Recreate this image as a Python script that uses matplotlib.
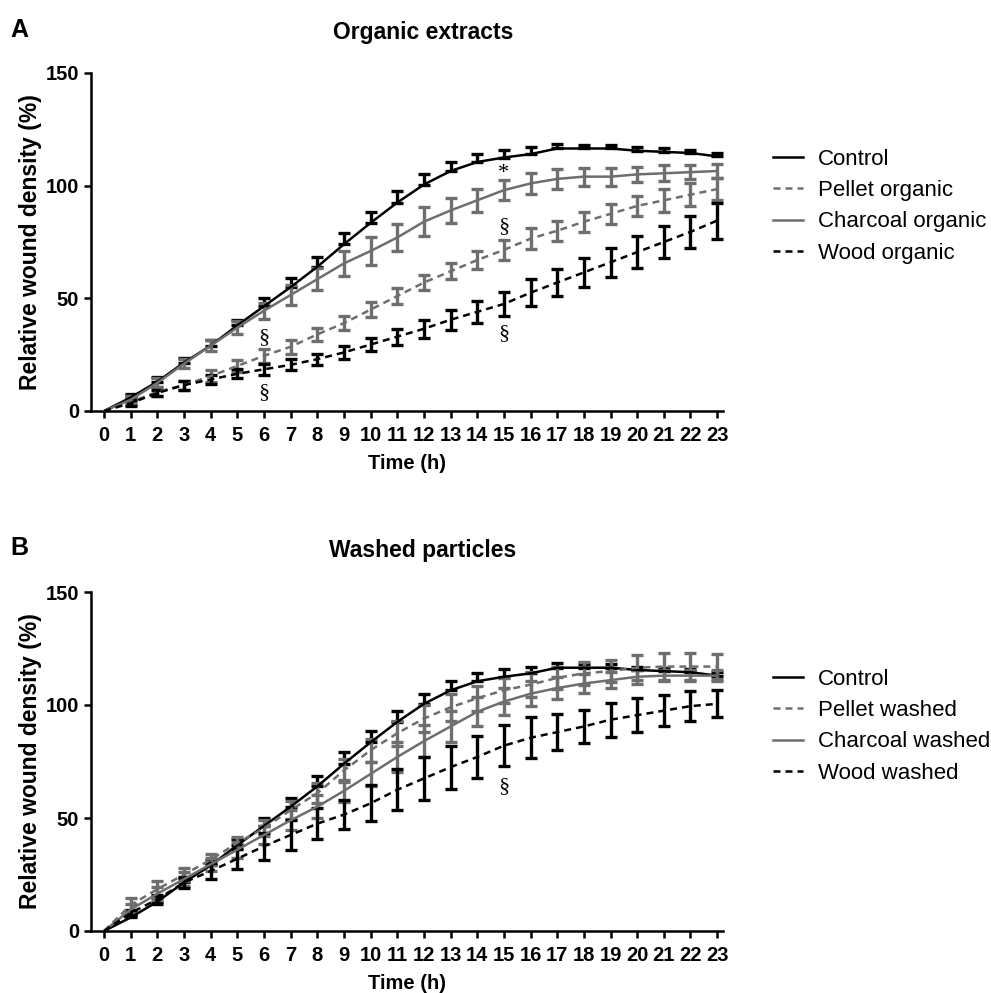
import numpy as np
import matplotlib
matplotlib.use("Agg")
import matplotlib.pyplot as plt
from matplotlib.lines import Line2D

# Time points (h)
hours = list(range(24))

# Control is shared by both panels (upper-only SEM bars)
control = [0, 6, 13, 21.5, 29, 38, 46.5, 55, 64, 74, 83.5, 92.5, 100.5, 106.5,
           110.5, 112.5, 114, 116.5, 116.5, 116.5, 115.5, 115, 114.5, 113]
control_err = [0, 1.5, 2, 2, 2.5, 2.5, 3.5, 4, 4.5, 5, 5, 5, 4.5, 4,
               3.5, 3.5, 3, 2, 1.5, 1.5, 1.5, 1.5, 1.5, 1.5]

# Panel A - organic extracts
pellet_org = [0, 4, 8.5, 11.5, 15.5, 20, 24.5, 28.5, 34, 39, 45, 51, 57, 62,
              67, 71.5, 76.5, 80, 84, 87.5, 91, 93.5, 96, 98.5]
pellet_org_err = [0, 1.5, 2, 2, 2.5, 2.5, 3, 3, 3, 3, 3.5, 3.5, 3.5, 3.5,
                  4, 4.5, 4.5, 4.5, 4.5, 4.5, 4.5, 5, 5, 5]
charcoal_org = [0, 5, 12.5, 21, 29, 37, 44.5, 51.5, 58.5, 65.5, 71, 77, 84, 89,
                93.5, 98, 101, 103, 104, 104, 105, 105.5, 106, 106.5]
charcoal_org_err = [0, 1.5, 2, 2, 2.5, 3, 3.5, 4.5, 5, 5.5, 6, 6, 6.5, 5.5,
                    5, 4.5, 4.5, 4.5, 4, 4, 3.5, 3.5, 3, 3]
wood_org = [0, 3.5, 8, 11.5, 14, 16.5, 18.5, 20.5, 23, 26, 29.5, 33, 36.5, 40.5,
            44, 47.5, 52.5, 57, 61.5, 66, 70.5, 75, 79.5, 84.5]
wood_org_err = [0, 1.5, 1.5, 2, 2, 2, 2.5, 2.5, 2.5, 3, 3, 3.5, 4, 4.5,
                5, 5.5, 6, 6, 6.5, 6.5, 7, 7, 7, 8]

# Panel B - washed particles
pellet_wash = [0, 11.5, 18.5, 25, 31.5, 39, 45.5, 53.5, 61, 71, 80, 87.5, 94, 99,
               103, 106.5, 109, 112, 114, 115, 116.5, 117, 117, 117]
pellet_wash_err = [0, 3, 3.5, 3, 2.5, 2.5, 3.5, 4, 4.5, 5, 5, 5.5, 6, 6,
                   5.5, 5.5, 5.5, 5, 5, 5, 5.5, 6, 6, 5.5]
charcoal_wash = [0, 9.5, 16.5, 23, 29.5, 36, 42.5, 49, 55, 62, 69.5, 77, 84, 90.5,
                 97, 101.5, 105, 107.5, 109.5, 111, 112.5, 113, 113, 113]
charcoal_wash_err = [0, 2.5, 3, 3, 3, 3.5, 4, 4.5, 5, 5, 5.5, 6.5, 7, 7,
                     6.5, 6, 5.5, 5, 4, 3.5, 3, 2.5, 2.5, 2.5]
wood_wash = [0, 8, 14, 21.5, 26.5, 32, 37.5, 42.5, 47.5, 51.5, 56.5, 62.5, 67.5, 72.5,
             77, 82, 85.5, 88, 90.5, 93.5, 95.5, 97.5, 99.5, 100.5]
wood_wash_err = [0, 1.5, 2, 2.5, 3.5, 4.5, 6, 6.5, 7, 6.5, 8, 9, 9.5, 9.5,
                 9.5, 9, 9, 8, 7.5, 7.5, 7.5, 7, 6.5, 6]

# Significance marks: (hour, y, symbol)
marks_a = [(6, 32.5, "§"), (6, 8, "§"), (15, 82, "§"), (15, 34.5, "§"), (15, 105.5, "*")]
marks_b = [(15, 64, "§")]

BLACK = "#000000"
GRAY = "#6e6e6e"
DASH = (0, (2.8, 2.0))
LW = 1.8

plt.rcParams.update({
    "font.family": ["Liberation Sans", "DejaVu Sans"],
    "axes.linewidth": 1.8,
})


def draw_series(ax, y, err, color, ls, upper_only=False):
    x = np.array(hours)
    y = np.array(y, dtype=float)
    err = np.array(err, dtype=float)
    lower = np.zeros_like(err) if upper_only else err
    ax.errorbar(x[1:], y[1:], yerr=[lower[1:], err[1:]], fmt="none",
                ecolor=color, elinewidth=2.4, capsize=4.2, capthick=2.4, zorder=2)
    ax.plot(x, y, color=color, linestyle=ls, linewidth=LW, zorder=3)


def style_axes(ax):
    ax.set_xlim(-0.49, 23.22)
    ax.set_ylim(0, 150)
    ax.set_xticks(hours)
    ax.set_yticks([0, 50, 100, 150])
    ax.spines["top"].set_visible(False)
    ax.spines["right"].set_visible(False)
    ax.tick_params(direction="out", length=5, width=1.8, pad=3.5)
    ax.tick_params(axis="x", pad=5.5)
    for lab in ax.get_xticklabels() + ax.get_yticklabels():
        lab.set_fontweight("bold")
        lab.set_fontsize(14.5)
    ax.set_xlabel("Time (h)", fontsize=14.5, fontweight="bold", labelpad=7)
    ax.set_ylabel("Relative wound density (%)", fontsize=16.5, fontweight="bold", labelpad=3)


def add_legend(ax, labels, top):
    styles = [(BLACK, "-"), (GRAY, DASH), (GRAY, "-"), (BLACK, DASH)]
    handles = [Line2D([], [], color=c, linestyle=s, linewidth=LW) for c, s in styles]
    ax.figure.legend(handles, labels, loc="upper left",
                     bbox_to_anchor=(773 / 991, top), frameon=False,
                     fontsize=16, handlelength=1.35, handletextpad=0.68,
                     labelspacing=0.46, borderpad=0, borderaxespad=0)


fig = plt.figure(figsize=(9.91, 9.93), dpi=100)
ax_a = fig.add_axes([91 / 991, 1 - 411 / 993, 632 / 991, 338 / 993])
ax_b = fig.add_axes([91 / 991, 1 - 931 / 993, 632 / 991, 339 / 993])

draw_series(ax_a, control, control_err, BLACK, "-", upper_only=True)
draw_series(ax_a, pellet_org, pellet_org_err, GRAY, DASH)
draw_series(ax_a, charcoal_org, charcoal_org_err, GRAY, "-")
draw_series(ax_a, wood_org, wood_org_err, BLACK, DASH)

draw_series(ax_b, control, control_err, BLACK, "-", upper_only=True)
draw_series(ax_b, pellet_wash, pellet_wash_err, GRAY, DASH)
draw_series(ax_b, charcoal_wash, charcoal_wash_err, GRAY, "-")
draw_series(ax_b, wood_wash, wood_wash_err, BLACK, DASH)

for ax, marks in ((ax_a, marks_a), (ax_b, marks_b)):
    style_axes(ax)
    for hx, hy, sym in marks:
        ax.text(hx, hy, sym, ha="center", va="center", fontsize=16,
                family=["Liberation Serif", "DejaVu Serif"], zorder=4)

add_legend(ax_a, ["Control", "Pellet organic", "Charcoal organic", "Wood organic"],
           1 - 149 / 993)
add_legend(ax_b, ["Control", "Pellet washed", "Charcoal washed", "Wood washed"],
           1 - 669 / 993)

fig.text(423 / 991, 1 - 32 / 993, "Organic extracts", ha="center", va="center",
         fontsize=16.5, fontweight="bold")
fig.text(423 / 991, 1 - 551 / 993, "Washed particles", ha="center", va="center",
         fontsize=16.5, fontweight="bold")
fig.text(10 / 991, 1 - 30 / 993, "A", ha="left", va="center", fontsize=18, fontweight="bold")
fig.text(10 / 991, 1 - 548 / 993, "B", ha="left", va="center", fontsize=18, fontweight="bold")

fig.savefig("out.png", dpi=100)
plt.close(fig)
